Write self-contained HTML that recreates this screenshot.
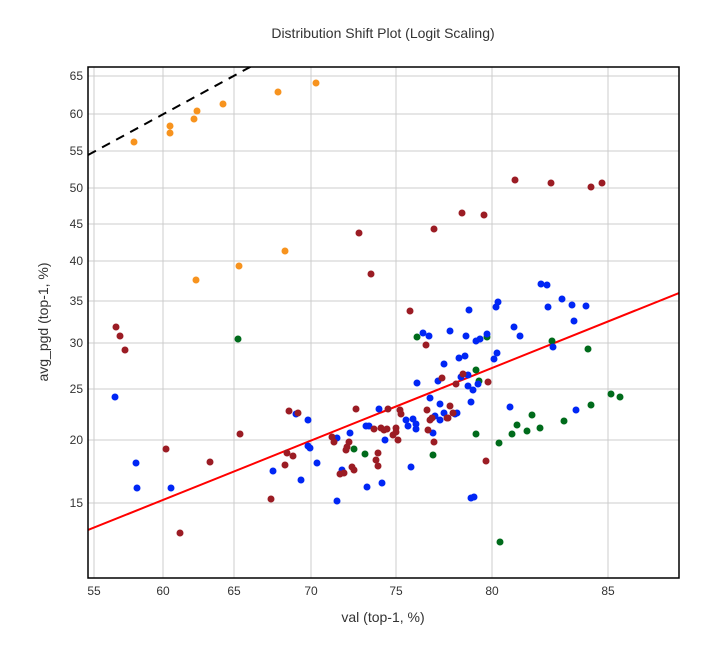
<!DOCTYPE html>
<html><head><meta charset="utf-8"><style>
body{margin:0;background:#fff}
svg text{font-family:"Liberation Sans",sans-serif;fill:#333}
</style></head><body>
<svg width="717" height="652" xmlns="http://www.w3.org/2000/svg">
<text x="383" y="38" font-size="14" text-anchor="middle">Distribution Shift Plot (Logit Scaling)</text>
<g stroke="#ccc" stroke-width="1">
<line x1="94" y1="67" x2="94" y2="578"/><line x1="163" y1="67" x2="163" y2="578"/><line x1="234" y1="67" x2="234" y2="578"/><line x1="311" y1="67" x2="311" y2="578"/><line x1="396" y1="67" x2="396" y2="578"/><line x1="492" y1="67" x2="492" y2="578"/><line x1="608" y1="67" x2="608" y2="578"/>
<line x1="88" y1="76" x2="679" y2="76"/><line x1="88" y1="114" x2="679" y2="114"/><line x1="88" y1="151" x2="679" y2="151"/><line x1="88" y1="188" x2="679" y2="188"/><line x1="88" y1="224" x2="679" y2="224"/><line x1="88" y1="261" x2="679" y2="261"/><line x1="88" y1="301" x2="679" y2="301"/><line x1="88" y1="343" x2="679" y2="343"/><line x1="88" y1="389" x2="679" y2="389"/><line x1="88" y1="440" x2="679" y2="440"/><line x1="88" y1="503" x2="679" y2="503"/>
</g>
<g font-size="12" text-anchor="end">
<text x="83" y="80">65</text><text x="83" y="118">60</text><text x="83" y="155">55</text><text x="83" y="192">50</text><text x="83" y="228">45</text><text x="83" y="265">40</text><text x="83" y="305">35</text><text x="83" y="347">30</text><text x="83" y="393">25</text><text x="83" y="444">20</text><text x="83" y="507">15</text>
</g>
<g font-size="12" text-anchor="middle">
<text x="94" y="595">55</text><text x="163" y="595">60</text><text x="234" y="595">65</text><text x="311" y="595">70</text><text x="396" y="595">75</text><text x="492" y="595">80</text><text x="608" y="595">85</text>
</g>
<text x="383" y="622" font-size="14" text-anchor="middle">val (top-1, %)</text>
<text x="0" y="0" font-size="14" text-anchor="middle" transform="translate(48,322) rotate(-90)">avg_pgd (top-1, %)</text>
<svg x="88" y="67" width="591" height="511" viewBox="88 67 591 511" overflow="hidden">
<line x1="88" y1="155" x2="252" y2="66" stroke="#000" stroke-width="2" stroke-dasharray="9,7"/>
<line x1="88" y1="530" x2="679" y2="293" stroke="#f00" stroke-width="2"/>
<g fill="#f7931e">
<circle cx="134" cy="142" r="3.5"/><circle cx="170" cy="126" r="3.5"/><circle cx="170" cy="133" r="3.5"/><circle cx="194" cy="119" r="3.5"/><circle cx="197" cy="111" r="3.5"/><circle cx="223" cy="104" r="3.5"/><circle cx="278" cy="92" r="3.5"/><circle cx="316" cy="83" r="3.5"/><circle cx="196" cy="280" r="3.5"/><circle cx="285" cy="251" r="3.5"/><circle cx="239" cy="266" r="3.5"/>
</g>
<g fill="#006b1b">
<circle cx="238" cy="339" r="3.5"/><circle cx="417" cy="337" r="3.5"/><circle cx="487" cy="337" r="3.5"/><circle cx="552" cy="341" r="3.5"/><circle cx="588" cy="349" r="3.5"/><circle cx="476" cy="370" r="3.5"/><circle cx="479" cy="381" r="3.5"/><circle cx="611" cy="394" r="3.5"/><circle cx="620" cy="397" r="3.5"/><circle cx="591" cy="405" r="3.5"/><circle cx="532" cy="415" r="3.5"/><circle cx="517" cy="425" r="3.5"/><circle cx="540" cy="428" r="3.5"/><circle cx="564" cy="421" r="3.5"/><circle cx="527" cy="431" r="3.5"/><circle cx="512" cy="434" r="3.5"/><circle cx="476" cy="434" r="3.5"/><circle cx="499" cy="443" r="3.5"/><circle cx="500" cy="542" r="3.5"/><circle cx="354" cy="449" r="3.5"/><circle cx="365" cy="454" r="3.5"/><circle cx="433" cy="455" r="3.5"/>
</g>
<g fill="#0026f5">
<circle cx="541" cy="284" r="3.5"/><circle cx="547" cy="285" r="3.5"/><circle cx="498" cy="302" r="3.5"/><circle cx="496" cy="307" r="3.5"/><circle cx="548" cy="307" r="3.5"/><circle cx="562" cy="299" r="3.5"/><circle cx="572" cy="305" r="3.5"/><circle cx="586" cy="306" r="3.5"/><circle cx="469" cy="310" r="3.5"/><circle cx="514" cy="327" r="3.5"/><circle cx="520" cy="336" r="3.5"/><circle cx="574" cy="321" r="3.5"/><circle cx="423" cy="333" r="3.5"/><circle cx="429" cy="336" r="3.5"/><circle cx="450" cy="331" r="3.5"/><circle cx="466" cy="336" r="3.5"/><circle cx="476" cy="341" r="3.5"/><circle cx="480" cy="339" r="3.5"/><circle cx="487" cy="334" r="3.5"/><circle cx="497" cy="353" r="3.5"/><circle cx="494" cy="359" r="3.5"/><circle cx="459" cy="358" r="3.5"/><circle cx="465" cy="356" r="3.5"/><circle cx="444" cy="364" r="3.5"/><circle cx="553" cy="347" r="3.5"/><circle cx="417" cy="383" r="3.5"/><circle cx="438" cy="381" r="3.5"/><circle cx="461" cy="377" r="3.5"/><circle cx="468" cy="375" r="3.5"/><circle cx="468" cy="386" r="3.5"/><circle cx="473" cy="390" r="3.5"/><circle cx="478" cy="384" r="3.5"/><circle cx="430" cy="398" r="3.5"/><circle cx="471" cy="402" r="3.5"/><circle cx="440" cy="404" r="3.5"/><circle cx="510" cy="407" r="3.5"/><circle cx="576" cy="410" r="3.5"/><circle cx="444" cy="413" r="3.5"/><circle cx="455" cy="414" r="3.5"/><circle cx="457" cy="413" r="3.5"/><circle cx="406" cy="420" r="3.5"/><circle cx="413" cy="419" r="3.5"/><circle cx="408" cy="426" r="3.5"/><circle cx="416" cy="424" r="3.5"/><circle cx="416" cy="429" r="3.5"/><circle cx="435" cy="416" r="3.5"/><circle cx="440" cy="420" r="3.5"/><circle cx="433" cy="433" r="3.5"/>
<circle cx="296" cy="414" r="3.5"/><circle cx="308" cy="420" r="3.5"/><circle cx="379" cy="409" r="3.5"/><circle cx="366" cy="426" r="3.5"/><circle cx="369" cy="426" r="3.5"/><circle cx="350" cy="433" r="3.5"/><circle cx="385" cy="440" r="3.5"/><circle cx="337" cy="438" r="3.5"/><circle cx="308" cy="446" r="3.5"/><circle cx="310" cy="448" r="3.5"/><circle cx="317" cy="463" r="3.5"/><circle cx="273" cy="471" r="3.5"/><circle cx="301" cy="480" r="3.5"/><circle cx="342" cy="470" r="3.5"/><circle cx="411" cy="467" r="3.5"/><circle cx="367" cy="487" r="3.5"/><circle cx="382" cy="483" r="3.5"/><circle cx="337" cy="501" r="3.5"/>
<circle cx="115" cy="397" r="3.5"/><circle cx="136" cy="463" r="3.5"/><circle cx="137" cy="488" r="3.5"/><circle cx="171" cy="488" r="3.5"/><circle cx="471" cy="498" r="3.5"/><circle cx="474" cy="497" r="3.5"/>
</g>
<g fill="#9b1c24">
<circle cx="410" cy="311" r="3.5"/><circle cx="426" cy="345" r="3.5"/><circle cx="442" cy="378" r="3.5"/><circle cx="456" cy="384" r="3.5"/><circle cx="463" cy="374" r="3.5"/><circle cx="488" cy="382" r="3.5"/><circle cx="450" cy="406" r="3.5"/><circle cx="427" cy="410" r="3.5"/><circle cx="430" cy="420" r="3.5"/><circle cx="432" cy="418" r="3.5"/><circle cx="448" cy="418" r="3.5"/><circle cx="453" cy="413" r="3.5"/><circle cx="428" cy="430" r="3.5"/><circle cx="434" cy="442" r="3.5"/><circle cx="400" cy="410" r="3.5"/>
<circle cx="240" cy="434" r="3.5"/><circle cx="289" cy="411" r="3.5"/><circle cx="298" cy="413" r="3.5"/><circle cx="356" cy="409" r="3.5"/><circle cx="388" cy="409" r="3.5"/><circle cx="401" cy="414" r="3.5"/><circle cx="447" cy="418" r="3.5"/><circle cx="374" cy="429" r="3.5"/><circle cx="381" cy="428" r="3.5"/><circle cx="384" cy="430" r="3.5"/><circle cx="387" cy="429" r="3.5"/><circle cx="396" cy="428" r="3.5"/><circle cx="396" cy="432" r="3.5"/><circle cx="393" cy="435" r="3.5"/><circle cx="398" cy="440" r="3.5"/><circle cx="332" cy="437" r="3.5"/><circle cx="334" cy="442" r="3.5"/><circle cx="349" cy="442" r="3.5"/><circle cx="347" cy="447" r="3.5"/><circle cx="346" cy="450" r="3.5"/><circle cx="378" cy="453" r="3.5"/><circle cx="376" cy="460" r="3.5"/><circle cx="378" cy="466" r="3.5"/><circle cx="352" cy="467" r="3.5"/><circle cx="354" cy="470" r="3.5"/><circle cx="344" cy="473" r="3.5"/><circle cx="340" cy="474" r="3.5"/><circle cx="287" cy="453" r="3.5"/><circle cx="293" cy="456" r="3.5"/><circle cx="285" cy="465" r="3.5"/><circle cx="271" cy="499" r="3.5"/>
<circle cx="116" cy="327" r="3.5"/><circle cx="120" cy="336" r="3.5"/><circle cx="125" cy="350" r="3.5"/><circle cx="359" cy="233" r="3.5"/><circle cx="371" cy="274" r="3.5"/><circle cx="434" cy="229" r="3.5"/><circle cx="462" cy="213" r="3.5"/><circle cx="484" cy="215" r="3.5"/><circle cx="515" cy="180" r="3.5"/><circle cx="551" cy="183" r="3.5"/><circle cx="591" cy="187" r="3.5"/><circle cx="602" cy="183" r="3.5"/><circle cx="166" cy="449" r="3.5"/><circle cx="210" cy="462" r="3.5"/><circle cx="180" cy="533" r="3.5"/><circle cx="486" cy="461" r="3.5"/>
</g>
</svg>
<rect x="88" y="67" width="591" height="511" fill="none" stroke="#000" stroke-width="1.5"/>
</svg>
</body></html>
